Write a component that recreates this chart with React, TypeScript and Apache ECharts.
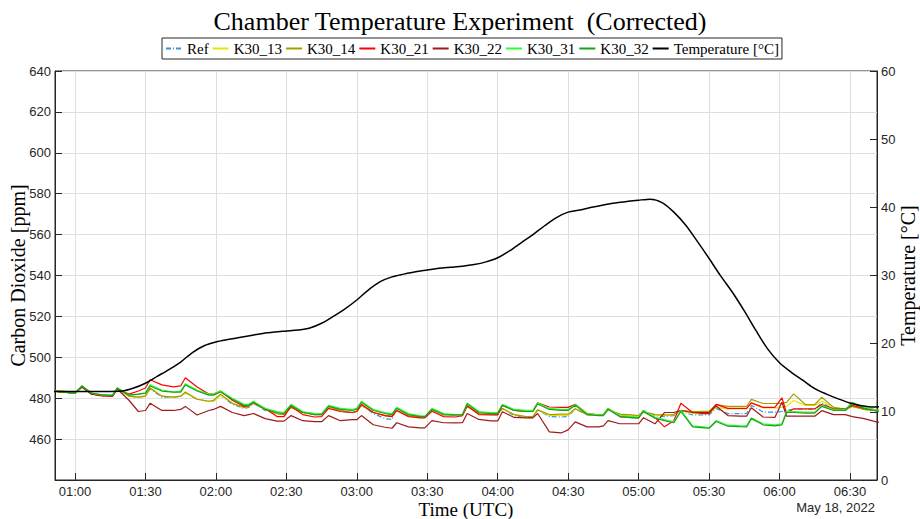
import React, { useEffect, useRef } from "react";
import * as echarts from "echarts";

const TITLE = "Chamber Temperature Experiment  (Corrected)";
const X_NAME = "Time (UTC)";
const Y_LEFT_NAME = "Carbon Dioxide [ppm]";
const Y_RIGHT_NAME = "Temperature [°C]";
const DATE_LABEL = "May 18, 2022";

// sample times (HH:MM, UTC) shared by the CO2 series
const times = [
  "00:50","00:55","01:00","01:03","01:07","01:12","01:16","01:18","01:23","01:27",
  "01:30","01:32","01:37","01:42","01:45","01:47","01:52","01:57","01:59","02:02",
  "02:07","02:12","02:14","02:16","02:21","02:26","02:29","02:32","02:37","02:42",
  "02:45","02:48","02:53","02:58","03:00","03:02","03:07","03:12","03:15","03:17",
  "03:22","03:27","03:29","03:32","03:37","03:42","03:45","03:47","03:52","03:57",
  "04:00","04:02","04:07","04:12","04:15","04:17","04:22","04:27","04:30","04:33",
  "04:38","04:43","04:45","04:47","04:52","04:57","05:00","05:02","05:07","05:11",
  "05:15","05:18","05:23","05:28","05:30","05:33","05:38","05:43","05:46","05:48",
  "05:53","05:58","06:01","06:03","06:06","06:11","06:15","06:18","06:23","06:28",
  "06:31","06:36","06:40","06:43"
];

const ref = [
  483.5,483,482.5,485.5,482,481.5,481,484.5,481,480.5,
  481,484.5,480.5,480.5,481,482.5,479.5,478.5,478.5,481.5,
  477,475,475.5,477.5,474,472.5,472,475.5,473,472.5,
  472.5,476,473.5,473,473.5,476.5,472.5,470,469.6,475.5,
  471.5,470.5,470.5,474.3,472,471.5,471.5,476,472.5,472,
  472,475,471.5,470.5,470.5,474.3,471,470.8,471,474.8,
  472,471.8,471.8,474.5,472,471.5,471.5,474,471.5,471,
  471.5,473.5,471.8,471.8,471.8,475,472.5,472.5,472.5,476.5,
  473.2,473.2,473.5,474,474.6,474.6,474.6,477.7,474.5,474.3,
  476,474.5,474,473.5
];

const k30_13 = [
  483.5,483.5,482.5,485.5,482,481.5,481,484.5,481,480.5,
  481,485,481,480.5,481,482.5,479.5,478.5,478.5,481.5,
  477.5,475.5,476,478,474.5,472.5,472,475.5,473,472.5,
  472,476,474,473,473.5,476.5,473,471.5,471.2,474,
  471.5,470.8,470.8,474.3,472,471.8,471.8,476.2,472.5,472.2,
  472.2,475,472,471,471,474.3,471.6,471.6,471.6,474.8,
  472,471.8,471.8,474.5,472,471.5,471.5,473.5,471.8,471.5,
  472,474,472.5,472.5,472.5,475.5,474.8,474.8,474.8,477.7,
  475.2,475.2,475.5,476,478.9,476.5,476.5,478.5,475.5,474.8,
  476,474.5,474,474
];

const k30_14 = [
  484,483.5,482.5,486,482,481.5,481,485,481,480.5,
  481,485,481,480.5,481,483,479.5,478.5,479,482,
  477.5,475.5,476,477.5,474.5,472.5,472,475.5,473,472,
  472,476,474,473,473.5,476.5,473,471.5,471.2,474,
  471.5,470.8,470.8,474.3,472,471.8,471.8,476.2,472.5,472.2,
  472.2,475,472,471,471,474.3,472,472.2,472.2,474.8,
  472,471.8,471.8,474.5,472.2,471.8,471.5,473.5,472,471.8,
  472,474,473.5,473.6,473.6,476.9,476,476,476,479.4,
  477.4,477.4,477.5,478,482.1,476.9,476.9,480.5,475.5,474.5,
  476,474.5,474,474
];

const k30_21 = [
  483.5,483,482.5,485.5,482,481,481,484.5,482,483.5,
  485,489,486.5,485.5,486,490,485.5,482,482,483.5,
  479,476,476.5,478,475,471,471,476,472,470.8,
  471,475,473.5,473,473.5,477,473,471.5,471,474,
  471,470.4,470.4,473.6,471,470.8,471.5,476.2,472,471.8,
  471.8,476.5,474,473.6,473.8,477.7,475.7,475.5,475.5,477,
  472.5,471.8,472,475,471,470.5,470.5,473.5,470.5,466,
  469,477.5,473,472.5,472.5,477,475,475,475,477.7,
  475.5,475.5,480.2,472.8,474.8,474.8,474.8,476.9,474.8,474.8,
  476.5,475,474.5,474
];

const k30_22 = [
  483.5,483,482.5,485.5,482,481.5,481,484.5,479,473.5,
  474,477.5,474,474,474.5,476,471.8,474,474.5,476,
  473,471.5,472,472.5,470,468.8,468.8,471.5,469,468.5,
  468.5,471.5,469,469.5,469.5,471.5,467,465.8,465.3,468,
  466,465.5,465.5,469,468,467.9,468,472.5,469.6,468.9,
  468.9,473.4,470.6,470.4,470.4,472.5,463.5,463,464.5,468.4,
  466,466,466.5,469,467.5,467.5,467.5,470.4,467.5,473,
  473,474,473,473,473,476.2,471.5,471.2,471.2,475.3,
  470.8,470.6,478,471.2,471.2,471.2,471.2,473.9,472,472,
  471,470,468.8,468
];

const k30_31 = [
  483.5,483,482.5,486,482.5,481.5,481.5,485,481.5,482,
  482.5,486.5,484,483,483.5,487,484,482,482,483.5,
  480,477,477,478.5,475,473.5,473,477,473.5,472.5,
  472.3,476.5,475,474.5,475,478.5,474.5,473,472.5,475.5,
  472.5,471.5,471.2,475,472.5,472,472,477.7,473.5,472.9,
  473,477,474.5,474,474,477.7,475,474.5,474.5,476.9,
  472.5,471.8,472,475,471.5,471,470.7,474,470.7,469.5,
  468.5,474,466.5,466,465.5,469.1,466.8,466.6,466.5,470.4,
  467.5,467,467.5,473.6,473.5,473.2,473.2,476.5,474.5,474.5,
  478,475.5,474.5,474
];

const k30_32 = [
  483.5,483,482.5,486,482.5,481.5,481.5,485,481.5,482,
  482.5,486,483.5,483,483,486.5,483.5,481.5,481.5,483,
  479.5,476.5,476.5,478,474.5,473,472.5,476.5,473,472,
  472,476,474.5,474,474.5,478,474,472.5,472,475,
  472,471,471,474.5,472,471.8,472,477.2,473,472.5,
  472.5,476.5,474,473.5,473.5,477.2,474.5,474,474,476.5,
  472,471.5,471.5,474.5,471,470.5,470.3,473.5,470.2,469,
  468,473.5,466,465.5,465.3,468.6,466.3,466.1,466,470,
  467,466.5,467,473,473,472.7,472.7,476,474,474,
  477.5,475,474,473.5
];

// temperature samples (°C), every 5 minutes
const tempTimes = [
  "00:50","00:55","01:00","01:05","01:10","01:15","01:20","01:25","01:30","01:35",
  "01:40","01:45","01:50","01:55","02:00","02:05","02:10","02:15","02:20","02:25",
  "02:30","02:35","02:40","02:45","02:50","02:55","03:00","03:05","03:10","03:15",
  "03:20","03:25","03:30","03:35","03:40","03:45","03:50","03:55","04:00","04:05",
  "04:10","04:15","04:20","04:25","04:30","04:35","04:40","04:45","04:50","04:55",
  "05:00","05:05","05:10","05:15","05:20","05:25","05:30","05:35","05:40","05:45",
  "05:50","05:55","06:00","06:05","06:10","06:15","06:20","06:25","06:30","06:35",
  "06:40","06:45"
];
const temperature = [
  13.0,13.0,13.0,13.0,13.0,13.0,13.05,13.5,14.2,15.2,
  16.2,17.3,18.7,19.7,20.25,20.6,20.9,21.2,21.5,21.7,
  21.85,22.0,22.3,23.0,24.0,25.1,26.4,27.9,29.1,29.8,
  30.2,30.55,30.8,31.05,31.2,31.35,31.6,32.0,32.6,33.6,
  34.8,36.0,37.3,38.5,39.3,39.6,40.0,40.35,40.65,40.85,
  41.05,41.2,40.7,39.3,37.4,35.0,32.5,29.9,27.5,24.8,
  21.9,19.2,17.2,15.8,14.6,13.4,12.6,11.9,11.3,10.9,
  10.7,10.8
];

const seriesNames = ["Ref","K30_13","K30_14","K30_21","K30_22","K30_31","K30_32","Temperature [°C]"];
const seriesColors = ["#3d8fe0","#ece400","#a89c00","#ff0000","#a01a1a","#2eff2e","#1f9e1f","#000000"];

const toMin = (s: string) => Number(s.slice(0, 2)) * 60 + Number(s.slice(3, 5));
const fmtTime = (v: number) => {
  if (Math.abs(v % 30) > 1e-6) return "";
  const h = Math.floor(v / 60);
  const m = Math.round(v - h * 60);
  return String(h).padStart(2, "0") + ":" + String(m).padStart(2, "0");
};

const INK = "#262626";
const GRID = "#dedede";
const SERIF = "Liberation Serif";
const SANS = "Liberation Sans";

export default function App() {
  const divRef = useRef<HTMLDivElement | null>(null);

  useEffect(() => {
    if (!divRef.current) return;
    const chart = echarts.init(divRef.current, null, { renderer: "svg" });
    const co2 = [ref, k30_13, k30_14, k30_21, k30_22, k30_31, k30_32];
    const xs = times.map(toMin);

    const series: any[] = co2.map((vals, i) => ({
      name: seriesNames[i],
      type: "line",
      yAxisIndex: 0,
      symbol: "none",
      data: vals.map((v, j) => [xs[j], v]),
      lineStyle: {
        color: seriesColors[i],
        width: 1.2,
        type: i === 0 ? [5, 2, 1, 2] : "solid",
      },
      itemStyle: { color: seriesColors[i] },
    }));
    series.push({
      name: seriesNames[7],
      type: "line",
      yAxisIndex: 1,
      symbol: "none",
      smooth: 0.3,
      data: temperature.map((v, j) => [toMin(tempTimes[j]), v]),
      lineStyle: { color: seriesColors[7], width: 1.5 },
      itemStyle: { color: seriesColors[7] },
    });

    chart.setOption({
      animation: false,
      backgroundColor: "#ffffff",
      title: {
        text: TITLE,
        left: "center",
        top: 3,
        textStyle: { fontFamily: SERIF, fontSize: 26, fontWeight: "normal", color: "#000" },
      },
      legend: {
        left: 162,
        top: 38,
        itemWidth: 16,
        itemHeight: 10,
        itemGap: 3,
        padding: [3, 3],
        borderColor: INK,
        borderWidth: 1,
        backgroundColor: "#fff",
        itemStyle: { opacity: 0 },
        textStyle: { fontFamily: SERIF, fontSize: 15, color: "#000" },
        data: seriesNames,
      },
      grid: {
        left: 55,
        right: 43,
        top: 71,
        bottom: 39,
        containLabel: false,
        outerBoundsMode: "none",
        show: true,
        borderColor: INK,
        borderWidth: 1,
        backgroundColor: "transparent",
      },
      xAxis: {
        type: "value",
        min: 51.5,
        max: 401.5,
        splitNumber: 12,
        minInterval: 30,
        maxInterval: 30,
        axisLine: { show: true, lineStyle: { color: INK } },
        axisTick: { show: true, inside: true, length: 7, lineStyle: { color: INK } },
        axisLabel: {
          formatter: fmtTime,
          color: INK,
          fontFamily: SANS,
          fontSize: 13,
          lineHeight: 13,
          margin: 5,
        },
        splitLine: { show: true, lineStyle: { color: GRID, width: 1 } },
        name: X_NAME,
        nameLocation: "middle",
        nameGap: 21,
        nameMoveOverlap: false,
        nameTextStyle: { fontFamily: SERIF, fontSize: 19, lineHeight: 16, color: "#000" },
      },
      yAxis: [
        {
          type: "value",
          position: "left",
          min: 440,
          max: 640,
          interval: 20,
          axisLine: { show: true, lineStyle: { color: INK } },
          axisTick: { show: true, inside: true, length: 7, lineStyle: { color: INK } },
          axisLabel: {
            formatter: (v: number) => (v === 440 ? "" : String(v)),
            color: INK,
            fontFamily: SANS,
            fontSize: 13,
            margin: 4,
          },
          splitLine: { show: true, lineStyle: { color: GRID, width: 1 } },
          name: Y_LEFT_NAME,
          nameLocation: "middle",
          nameRotate: 90,
          nameGap: 27,
          nameMoveOverlap: false,
          nameTextStyle: { fontFamily: SERIF, fontSize: 20, color: "#000" },
        },
        {
          type: "value",
          position: "right",
          min: 0,
          max: 60,
          interval: 10,
          axisLine: { show: true, lineStyle: { color: INK } },
          axisTick: { show: true, inside: true, length: 7, lineStyle: { color: INK } },
          axisLabel: { color: INK, fontFamily: SANS, fontSize: 13, margin: 4 },
          splitLine: { show: false },
          name: Y_RIGHT_NAME,
          nameLocation: "middle",
          nameRotate: 90,
          nameGap: 21,
          nameMoveOverlap: false,
          nameTextStyle: { fontFamily: SERIF, fontSize: 20, color: "#000" },
        },
      ],
      graphic: [
        {
          type: "text",
          x: 875,
          y: 507,
          style: {
            text: DATE_LABEL,
            fill: INK,
            font: "13px 'Liberation Sans'",
            textAlign: "right",
            textVerticalAlign: "middle",
          },
        },
      ],
      series,
    });

    return () => chart.dispose();
  }, []);

  return (
    <div
      ref={divRef}
      style={{ position: "absolute", left: 0, top: 0, width: 920, height: 519 }}
    />
  );
}
